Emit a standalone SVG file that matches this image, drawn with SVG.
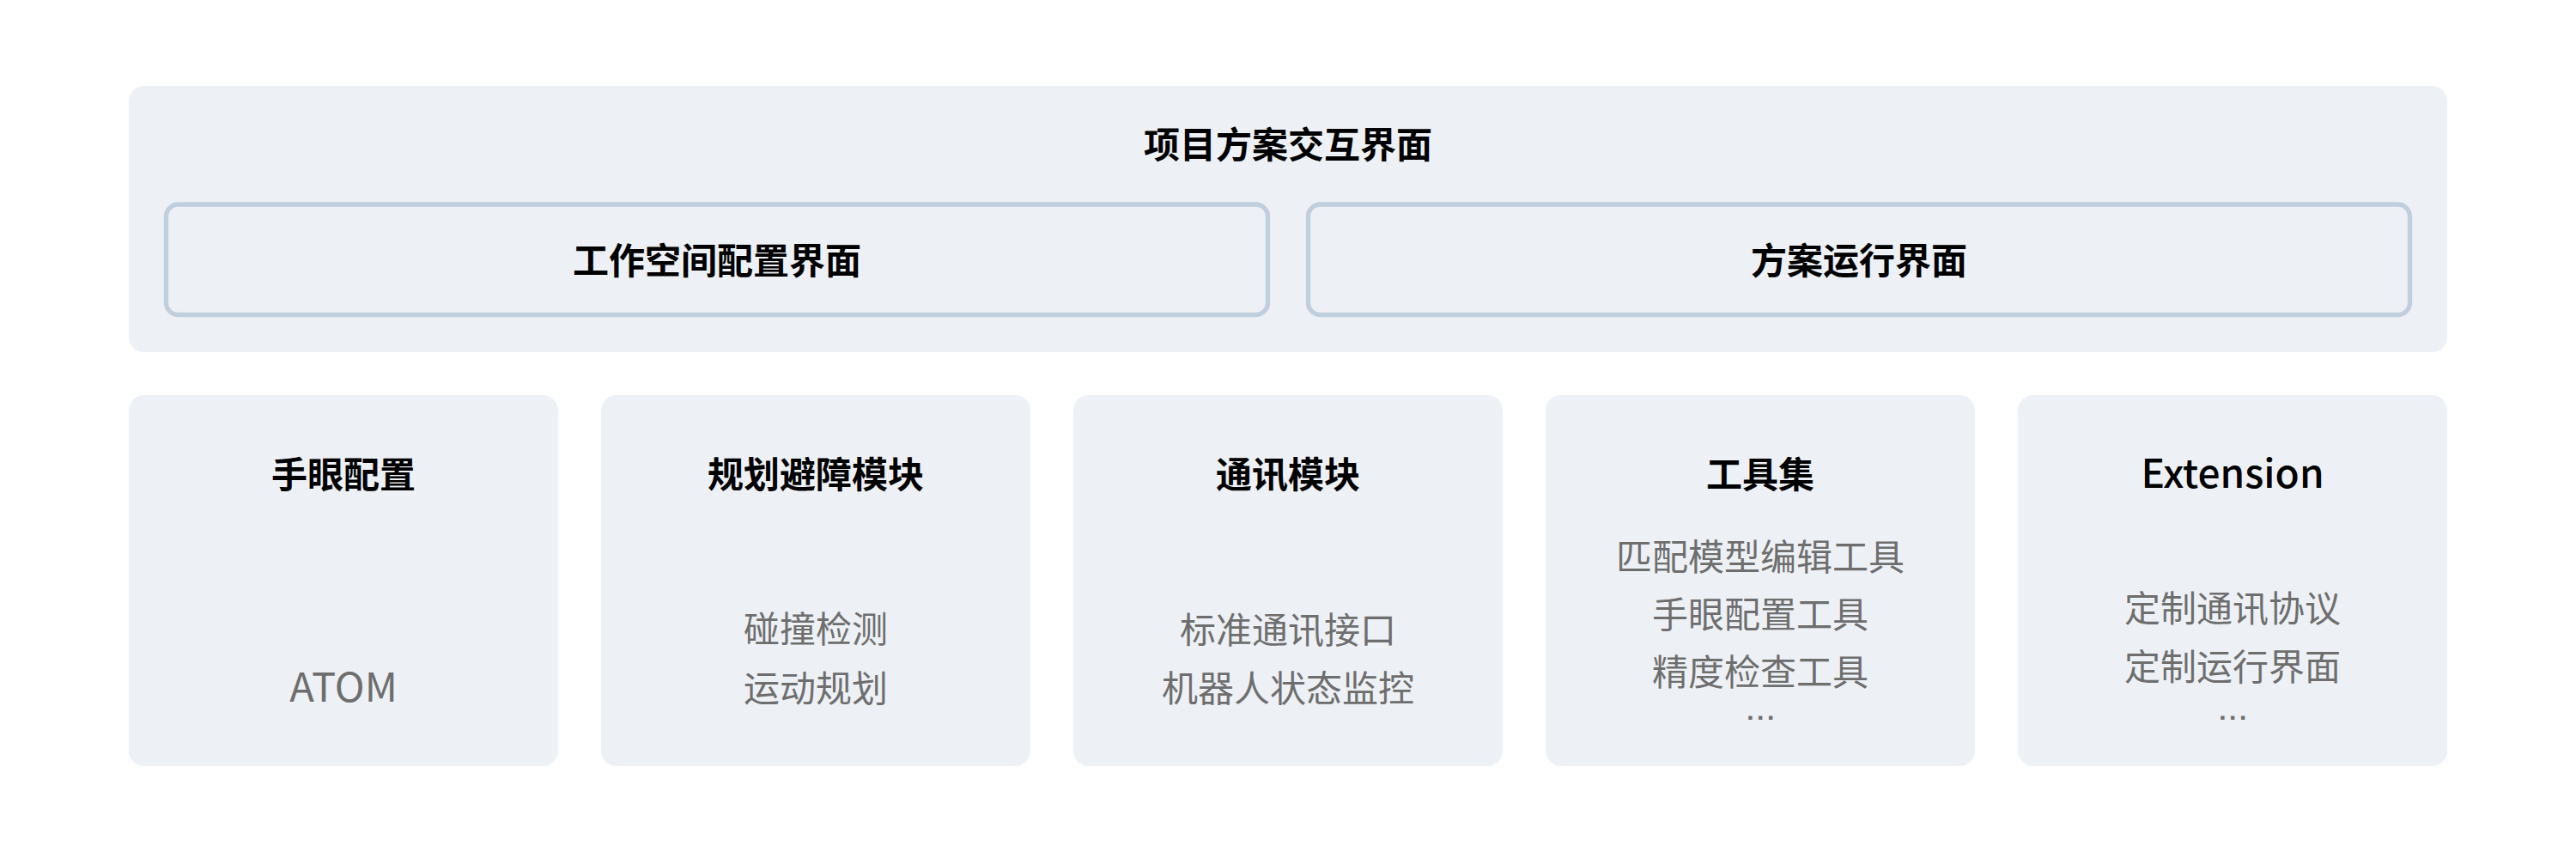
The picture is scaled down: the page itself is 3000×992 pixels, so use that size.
<svg xmlns="http://www.w3.org/2000/svg" width="3000" height="992" viewBox="0 0 3000 992">
<style>
.panel{fill:#EDF1F5}
.inner{fill:#EDF1F5;stroke:#C0CFDD;stroke-width:5.4}
text{font-family:"Noto Sans CJK SC","Noto Sans",sans-serif;text-anchor:middle}
.h{font-size:42px;font-weight:700;fill:#000}
.hl{font-size:46px;font-weight:500;fill:#000}
.t{font-size:42px;font-weight:400;fill:#6E6E6E}
.tl{font-size:47px;font-weight:400;fill:#6E6E6E}
.dots{font-family:"Liberation Sans",sans-serif;font-size:30px;font-weight:700;letter-spacing:3.5px;fill:#6E6E6E}
</style>
<rect width="3000" height="992" fill="#FFFFFF"/>
<g id="project-ui">
<rect class="panel" x="150" y="100" width="2700" height="310" rx="18"/>
<text class="h" x="1500" y="184">项目方案交互界面</text>
</g>
<g id="workspace-ui">
<rect class="inner" x="193.5" y="238" width="1283" height="128.5" rx="14"/>
<text class="h" x="835" y="319">工作空间配置界面</text>
</g>
<g id="run-ui">
<rect class="inner" x="1523.5" y="238" width="1283" height="128.5" rx="14"/>
<text class="h" x="2165" y="319">方案运行界面</text>
</g>
<g id="hand-eye">
<rect class="panel" x="150" y="460" width="500" height="432" rx="18"/>
<text class="h" x="400" y="568">手眼配置</text>
<text class="tl" x="400" y="817">ATOM</text>
</g>
<g id="planning">
<rect class="panel" x="700" y="460" width="500" height="432" rx="18"/>
<text class="h" x="950" y="568">规划避障模块</text>
<text class="t" x="950" y="748">碰撞检测</text>
<text class="t" x="950" y="817">运动规划</text>
</g>
<g id="comm">
<rect class="panel" x="1250" y="460" width="500" height="432" rx="18"/>
<text class="h" x="1500" y="568">通讯模块</text>
<text class="t" x="1500" y="748.5">标准通讯接口</text>
<text class="t" x="1500" y="817">机器人状态监控</text>
</g>
<g id="tools">
<rect class="panel" x="1800" y="460" width="500" height="432" rx="18"/>
<text class="h" x="2050" y="568">工具集</text>
<text class="t" x="2050" y="663.5">匹配模型编辑工具</text>
<text class="t" x="2050" y="731">手眼配置工具</text>
<text class="t" x="2050" y="798">精度检查工具</text>
<text class="dots" x="2052" y="838">...</text>
</g>
<g id="extension">
<rect class="panel" x="2350" y="460" width="500" height="432" rx="18"/>
<text class="hl" x="2600" y="568">Extension</text>
<text class="t" x="2600" y="723.5">定制通讯协议</text>
<text class="t" x="2600" y="792">定制运行界面</text>
<text class="dots" x="2602" y="838">...</text>
</g>
<g id="connectors"></g>
</svg>
